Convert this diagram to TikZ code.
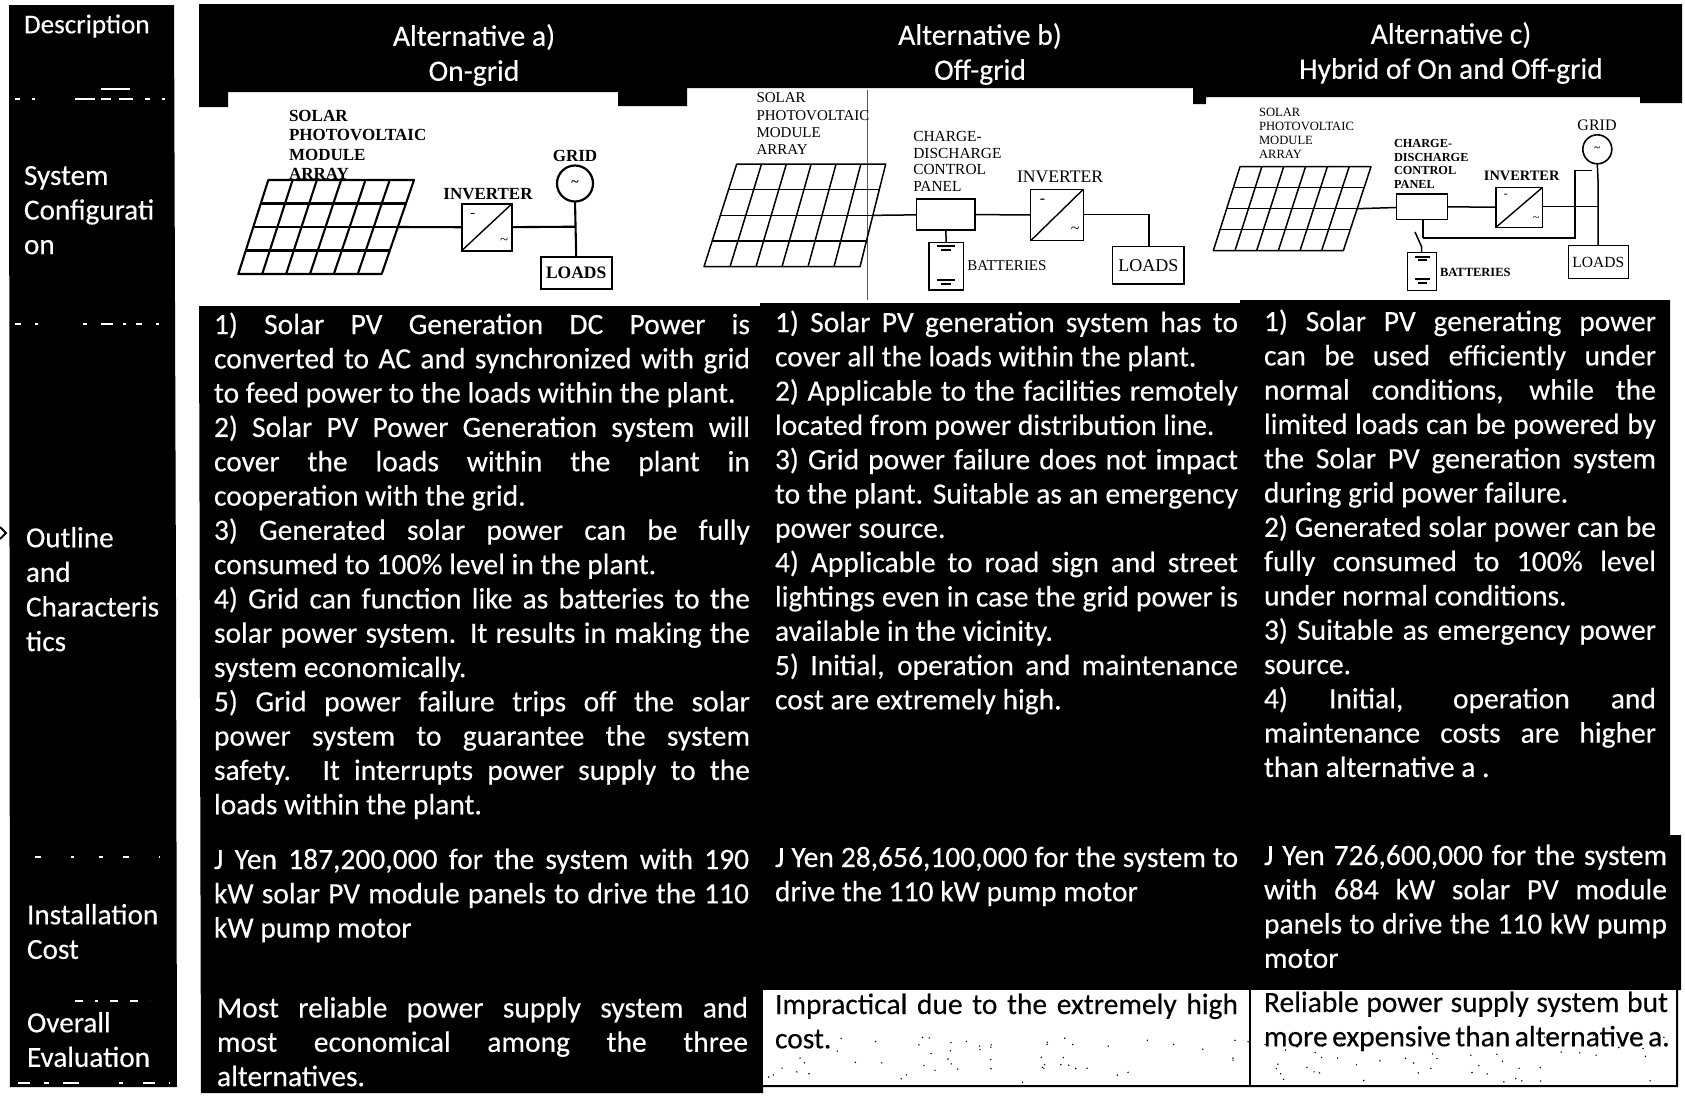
\documentclass[tikz,border=0pt]{standalone}
\usepackage{fontspec}
\setmainfont{Carlito}[FakeBold=0.3]
\newfontfamily\lblfont{Liberation Serif}
\usetikzlibrary{calc}
\tikzset{
  every node/.style={inner sep=0pt,outer sep=0pt},
  cell/.style={anchor=north west,align=flush left,text=white,font=\fontsize{29.5}{34.3}\selectfont},
  cellk/.style={cell,text=black},
  hdr/.style={text=white,align=flush center,font=\fontsize{29.6}{35}\selectfont},
  lab/.style={anchor=north west,align=flush left,text=white,font=\fontsize{29.2}{34.6}\selectfont},
  wire/.style={line width=1.5pt,black},
  cellgrid/.style={line width=1.5pt,black},
  devbox/.style={draw=black,line width=1.4pt,fill=white,rectangle},
  gridsrc/.style={draw=black,line width=1.6pt,fill=white,circle},
  specks/.style={white,line width=1.2pt},
}
\newcommand{\jl}[2]{\makebox[#1pt][s]{#2}}
\newcommand{\sunpanel}[7]{%
  \coordinate (#1-tl) at (#2,#6);
  \coordinate (#1-tr) at (#3,#6);
  \coordinate (#1-br) at (#4,#7);
  \coordinate (#1-bl) at (#5,#7);
  \coordinate (#1-r) at ($(#1-tr)!.5!(#1-br)$);
  \draw[cellgrid,line join=round] (#1-tl) -- (#1-tr) -- (#1-br) -- (#1-bl) -- cycle;
  \foreach \f in {.25,.5,.75} \draw[cellgrid] ($(#1-tl)!\f!(#1-bl)$) -- ($(#1-tr)!\f!(#1-br)$);
  \foreach \f in {.1667,.3333,.5,.6667,.8333} \draw[cellgrid] ($(#1-tl)!\f!(#1-tr)$) -- ($(#1-bl)!\f!(#1-br)$);
}
\newcommand{\invbox}[6]{%
  \node[devbox,minimum width=#4pt,minimum height=#5pt] (#1) at (#2,#3) {};
  \draw[line width=1.4pt] (#1.south west) -- (#1.north east);
  \node[font=\lblfont\fontsize{#6}{#6}\selectfont] (#1-dc) at ($(#1.north west)!.3!(#1.south east)+(-4,-3)$) {-};
  \node[font=\lblfont\fontsize{#6}{#6}\selectfont] (#1-ac) at ($(#1.north west)!.75!(#1.south east)+(5,2)$) {\char"7E};
}
\begin{document}
\begin{tikzpicture}[x=1pt,y=-1pt]
\useasboundingbox (0,0) rectangle (1685,1096);
\fill[white] (0,0) rectangle (1685,1096);
\fill[black] (9,5) -- (174,5) -- (176,600) -- (177,1087) -- (10,1087) -- cycle;
\fill[black] (199,4) -- (1682,4) -- (1682,103) -- (1640,103) -- (1640,97) -- (1206,97) -- (1206,104) -- (1193,104)
  -- (1193,88) -- (687,88) -- (687,106) -- (618,106) -- (618,92) -- (228,92) -- (228,107) -- (199,107) -- cycle;
\fill[black] (199,306) -- (760,306) -- (760,303) -- (1240,303) -- (1240,300) -- (1670,300) -- (1670,835)
  -- (1681,835) -- (1681,990) -- (1678,990) -- (1678,1087) -- (763,1087) -- (763,1093) -- (201,1093) -- cycle;
\fill[white] (763,990) rectangle (1677,1086);
\draw[line width=1.6pt] (1250,990) -- (1250,1087);
\draw[line width=1.2pt] (763,1086) -- (1678,1086);
\draw[line width=1.2pt] (1677,990) -- (1677,1087);
\pgfmathsetseed{11}
\foreach \i in {1,...,110} {
  \pgfmathsetmacro{\px}{768+rnd*905}
  \pgfmathsetmacro{\py}{1035+rnd*48}
  \fill[black] (\px,\py) circle (0.8);
}
\draw[specks,dash pattern=on 5pt off 12pt on 3pt off 40pt on 20pt off 6pt on 10pt off 8pt on 14pt off 12pt] (15,99) -- (172,99);
\draw[specks,dash pattern=on 30pt off 60pt] (101,89) -- (130,89);
\draw[specks,dash pattern=on 6pt off 14pt on 3pt off 45pt on 4pt off 14pt on 12pt off 10pt on 3pt off 10pt] (15,324) -- (172,324);
\draw[specks,dash pattern=on 6pt off 30pt on 3pt off 25pt on 4pt off 20pt] (35,857) -- (160,857);
\draw[specks,dash pattern=on 8pt off 12pt on 3pt off 12pt on 8pt off 12pt] (75,1001) -- (150,1001);
\draw[specks,dash pattern=on 12pt off 14pt on 5pt off 14pt on 16pt off 40pt on 4pt off 20pt] (18,1083) -- (170,1083);
\draw[line width=1.8pt,line join=miter] (0,527) -- (6,533) -- (0,539);
\node[lab,font=\fontsize{27.1}{34.6}\selectfont] (l1) at (24,14.5) {Description};
\node[lab] (l2) at (24,166) {System\\Configurati\\on};
\node[lab] (l3) at (26,527) {Outline\\and\\Characteris\\tics};
\node[lab] (l4) at (27,904) {Installation\\Cost};
\node[lab] (l5) at (27,1012) {Overall\\Evaluation};
\node[hdr] (h1) at (474,55) {Alternative a)\\On-grid};
\node[hdr] (h2) at (980,54) {Alternative b)\\Off-grid};
\node[hdr] (h3) at (1451,53) {Alternative c)\\Hybrid of On and Off-grid};
\node[cell,text width=536pt] (o1) at (214,312.5) {%
\jl{536}{1) Solar PV Generation DC Power is}\\
\jl{536}{converted to AC and synchronized with grid}\\
to feed power to the loads within the plant.\\
\jl{536}{2) Solar PV Power Generation system will}\\
\jl{536}{cover the loads within the plant in}\\
cooperation with the grid.\\
\jl{536}{3) Generated solar power can be fully}\\
consumed to 100\% level in the plant.\\
\jl{536}{4) Grid can function like as batteries to the}\\
\jl{536}{solar power system. It results in making the}\\
system economically.\\
\jl{536}{5) Grid power failure trips off the solar}\\
\jl{536}{power system to guarantee the system}\\
\jl{536}{safety. It interrupts power supply to the}\\
loads within the plant.};
\node[cell,text width=463pt] (o2) at (775,310.5) {%
\jl{463}{1) Solar PV generation system has to}\\
cover all the loads within the plant.\\
\jl{463}{2) Applicable to the facilities remotely}\\
located from power distribution line.\\
\jl{463}{3) Grid power failure does not impact}\\
\jl{463}{to the plant. Suitable as an emergency}\\
power source.\\
\jl{463}{4) Applicable to road sign and street}\\
\jl{463}{lightings even in case the grid power is}\\
available in the vicinity.\\
\jl{463}{5) Initial, operation and maintenance}\\
cost are extremely high.};
\node[cell,text width=392pt] (o3) at (1264,309.5) {%
\jl{392}{1) Solar PV generating power}\\
\jl{392}{can be used efficiently under}\\
\jl{392}{normal conditions, while the}\\
\jl{392}{limited loads can be powered by}\\
\jl{392}{the Solar PV generation system}\\
during grid power failure.\\
\jl{392}{2) Generated solar power can be}\\
\jl{392}{fully consumed to 100\% level}\\
under normal conditions.\\
\jl{392}{3) Suitable as emergency power}\\
source.\\
\jl{392}{4) Initial, operation and}\\
\jl{392}{maintenance costs are higher}\\
than alternative a .};
\node[cell,text width=535pt] (c1) at (214,848.5) {%
\jl{535}{J Yen 187,200,000 for the system with 190}\\
\jl{535}{kW solar PV module panels to drive the 110}\\
kW pump motor};
\node[cell,text width=463pt] (c2) at (775,846.5) {%
\jl{463}{J Yen 28,656,100,000 for the system to}\\
drive the 110 kW pump motor};
\node[cell,text width=403pt] (c3) at (1264,844.5) {%
\jl{403}{J Yen 726,600,000 for the system}\\
\jl{403}{with 684 kW solar PV module}\\
\jl{403}{panels to drive the 110 kW pump}\\
motor};
\node[cell,text width=531pt] (e1) at (217,997) {%
\jl{531}{Most reliable power supply system and}\\
\jl{531}{most economical among the three}\\
alternatives.};
\node[cellk,text width=463pt] (e2) at (775,993.5) {%
\jl{463}{Impractical due to the extremely high}\\
cost.};
\node[cellk,text width=404pt] (e3) at (1264,991.5) {%
\jl{404}{Reliable power supply system but}\\
\jl{404}{more expensive than alternative a.}};
\begin{scope}[cellgrid/.style={line width=2.1pt,black},wire/.style={line width=2.1pt,black},devbox/.style={draw=black,line width=2pt,fill=white,rectangle},gridsrc/.style={draw=black,line width=2.2pt,fill=white,circle}]
\sunpanel{a}{268.3}{414}{381.7}{238.3}{180}{274}
\node[anchor=north west,align=flush left,font=\lblfont\bfseries\fontsize{17}{19.5}\selectfont] (at) at (289,110) {SOLAR\\PHOTOVOLTAIC\\MODULE\\ARRAY};
\invbox{ai}{486.7}{227.3}{50}{46.7}{15}
\node[gridsrc,minimum size=36pt] (ag) at (575,183.5) {};
\node[font=\lblfont\bfseries\fontsize{14}{14}\selectfont] (agm) at (ag) {\char"7E};
\node[devbox,minimum width=71pt,minimum height=32.6pt,font=\lblfont\bfseries\fontsize{17.5}{17.5}\selectfont] (al) at (576.2,273) {LOADS};
\node[font=\lblfont\bfseries\fontsize{17}{17}\selectfont] (ait) at (488,194) {INVERTER};
\node[font=\lblfont\bfseries\fontsize{17}{17}\selectfont] (agt) at (575,156) {GRID};
\coordinate (aj) at (575.7,226.7);
\draw[wire] (a-r) -- (ai);
\draw[wire] (ai) -- (aj);
\draw[wire] (ag.south) -- (al.north);
\end{scope}
\draw[line width=.9pt,black!65] (867.7,90) -- (867.7,300);
\sunpanel{b}{736.7}{885.7}{860}{704}{164}{266.7}
\node[anchor=north west,align=flush left,font=\lblfont\fontsize{15}{17.3}\selectfont] (bt) at (756.5,93) {SOLAR\\PHOTOVOLTAIC\\MODULE\\ARRAY};
\node[anchor=north west,align=flush left,font=\lblfont\fontsize{15.4}{16.6}\selectfont] (bct) at (913.3,131.5) {CHARGE-\\DISCHARGE\\CONTROL\\PANEL};
\node[devbox,minimum width=58.3pt,minimum height=31pt] (bc) at (945.8,214.5) {};
\invbox{bi}{1057}{215}{52.6}{51.4}{16}
\node[devbox,minimum width=71.3pt,minimum height=37.3pt,font=\lblfont\fontsize{18}{18}\selectfont] (bl) at (1148.4,265.3) {LOADS};
\node[devbox,minimum width=34.3pt,minimum height=47.3pt] (bb) at (946.2,266.3) {};
\node[font=\lblfont\fontsize{17.6}{17.6}\selectfont] (bit) at (1060,176.7) {INVERTER};
\node[anchor=west,font=\lblfont\fontsize{15}{15}\selectfont] (bbt) at (967.3,266) {BATTERIES};
\coordinate (bk) at (1149,214.3);
\draw[wire] (b-r) -- (bc);
\draw[wire] (bc) -- (bi);
\draw[wire] (bi.east |- bk) -- (bk) -- (bl.north -| bk);
\draw[wire] (bc.south) -- (bb.north);
\draw[line width=1.2pt] (937,246) -- (955,246) (941,250) -- (951,250) (937,280) -- (955,280) (941,284) -- (951,284);
\sunpanel{c}{1240}{1371}{1343.3}{1213.3}{166.7}{250.7}
\node[anchor=north west,align=flush left,font=\lblfont\fontsize{12.6}{14.2}\selectfont] (ct) at (1259,108) {SOLAR\\PHOTOVOLTAIC\\MODULE\\ARRAY};
\node[anchor=north west,align=flush left,font=\lblfont\bfseries\fontsize{12.3}{13.9}\selectfont] (cct) at (1394,139) {CHARGE-\\DISCHARGE\\CONTROL\\PANEL};
\node[devbox,minimum width=50.6pt,minimum height=25.3pt] (cc) at (1422,206.7) {};
\invbox{ci}{1519.3}{207.3}{46.7}{40}{12}
\node[devbox,minimum width=60pt,minimum height=32.6pt,font=\lblfont\fontsize{15.5}{15.5}\selectfont] (cl) at (1598.3,262) {LOADS};
\node[devbox,minimum width=29.4pt,minimum height=38pt] (cb) at (1422,271.7) {};
\node[gridsrc,minimum size=29pt] (cg) at (1597.3,149.3) {};
\node[font=\lblfont\bfseries\fontsize{11}{11}\selectfont] (cgm) at (cg) {\char"7E};
\node[font=\lblfont\bfseries\fontsize{14.4}{14.4}\selectfont] (cit) at (1521.7,176) {INVERTER};
\node[font=\lblfont\fontsize{16}{16}\selectfont] (cgt) at (1597,125) {GRID};
\node[anchor=west,font=\lblfont\bfseries\fontsize{12.5}{12.5}\selectfont] (cbt) at (1440,272.3) {BATTERIES};
\coordinate (cj) at (1598,206.7);
\coordinate (cs1) at (1598,180);
\coordinate (cs2) at (1592,170.7);
\coordinate (cs3) at (1575,170.7);
\coordinate (cs4) at (1575,238);
\coordinate (cs5) at (1423,238);
\coordinate (cs6) at (1415,232);
\coordinate (cs7) at (1421.7,247);
\draw[wire] (c-r) -- (cc);
\draw[wire] (cc) -- (ci);
\draw[wire] (ci.east |- cj) -- (cj);
\draw[wire] (cg.south) -- (cs1) -- (cl.north -| cs1);
\draw[wire] (cs2) -- (cs3) -- (cs4) -- (cs5);
\draw[wire] (cc.south -| cs5) -- (cs5);
\draw[wire] (cs6) -- (cs7) -- (cb.north -| cs7);
\draw[line width=1.1pt] (1415,257) -- (1430,257) (1418,260) -- (1427,260) (1415,279) -- (1430,279) (1418,283) -- (1427,283);
\end{tikzpicture}
\end{document}
